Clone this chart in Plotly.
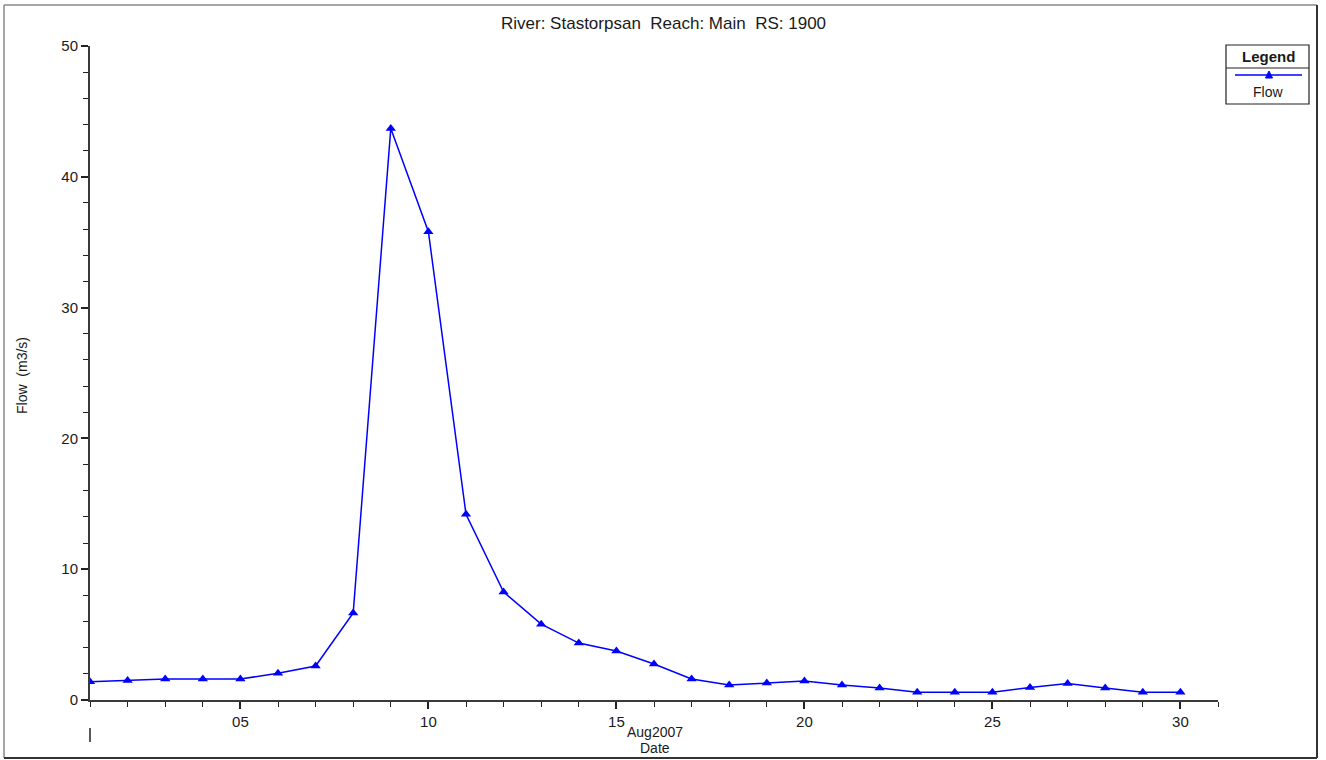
import plotly.graph_objects as go

# ---- data ----
dates = [f"2007-08-{d:02d}" for d in range(1, 31)]
flow = [1.4, 1.5, 1.6, 1.6, 1.6, 2.05, 2.6, 6.65, 43.7, 35.8,
        14.2, 8.25, 5.8, 4.35, 3.75, 2.75, 1.6, 1.15, 1.3, 1.45,
        1.15, 0.92, 0.6, 0.6, 0.6, 0.95, 1.27, 0.92, 0.6, 0.6]
title_text = "River: Stastorpsan  Reach: Main  RS: 1900"
y_title = "Flow  (m3/s)"
x_title = "Date"
month_label = "Aug2007"
series_name = "Flow"

W, H = 1326, 760
BLUE = "#0000FF"
FONT = "Liberation Sans, Arial, sans-serif"
TXT = "#1a1a1a"

def px(x):
    return x / W

def py(y):
    return 1 - y / H

fig = go.Figure()
fig.add_trace(go.Scatter(
    x=dates, y=flow, mode="lines+markers", name=series_name,
    line=dict(color=BLUE, width=1.5),
    marker=dict(symbol="triangle-up", size=9, color=BLUE),
    showlegend=False,
))

fig.update_layout(
    width=W, height=H,
    margin=dict(l=0, r=0, t=0, b=0, pad=0, autoexpand=False),
    paper_bgcolor="white", plot_bgcolor="white",
    font=dict(family=FONT, color=TXT, size=15),
    xaxis=dict(
        type="date",
        domain=[px(90), px(1218)],
        range=["2007-08-01", "2007-08-31"],
        tick0="2007-08-05", dtick=5 * 86400000,
        tickformat="%d",
        ticks="outside", ticklen=7, tickwidth=1.5, tickcolor="#222",
        minor=dict(dtick=86400000, tick0="2007-08-01", ticks="outside",
                   ticklen=5, tickwidth=1.2, tickcolor="#222", showgrid=False),
        showline=True, linecolor="#3a3a3a", linewidth=2,
        showgrid=False, zeroline=False, automargin=False,
        tickfont=dict(size=15, family=FONT, color=TXT),
        anchor="y",
    ),
    yaxis=dict(
        domain=[py(700), py(46)],
        range=[0, 50], dtick=10,
        ticks="outside", ticklen=7, tickwidth=1.5, tickcolor="#222",
        minor=dict(dtick=2, ticks="outside", ticklen=5, tickwidth=1.2,
                   tickcolor="#222", showgrid=False),
        showline=True, linecolor="#3a3a3a", linewidth=2,
        showgrid=False, zeroline=False, automargin=False,
        tickfont=dict(size=15, family=FONT, color=TXT),
        anchor="x",
    ),
)

def ann(text, x, y, size, angle=0):
    return dict(text=text, x=px(x), y=py(y), xref="paper", yref="paper",
                xanchor="center", yanchor="middle", showarrow=False,
                textangle=angle, font=dict(size=size, family=FONT, color=TXT))

annotations = [
    ann(title_text, 663, 24, 17),
    ann(y_title, 22, 376, 14, -90),
    ann(month_label, 655, 732, 14),
    ann(x_title, 655, 748, 14),
    ann("<b>Legend</b>", 1268, 57, 15),
    ann(series_name, 1268, 92, 14),
]

shapes = [
    # outer frame (light top/left, dark bottom/right)
    dict(type="line", xref="paper", yref="paper", x0=px(4), x1=px(1317), y0=py(5), y1=py(5),
         line=dict(color="#8a8a8a", width=1.5)),
    dict(type="line", xref="paper", yref="paper", x0=px(4), x1=px(4), y0=py(5), y1=py(758),
         line=dict(color="#8a8a8a", width=1.5)),
    dict(type="line", xref="paper", yref="paper", x0=px(4), x1=px(1317), y0=py(758), y1=py(758),
         line=dict(color="#333", width=2)),
    dict(type="line", xref="paper", yref="paper", x0=px(1317), x1=px(1317), y0=py(5), y1=py(758),
         line=dict(color="#333", width=2)),
    # month start marker
    dict(type="line", xref="paper", yref="paper", x0=px(90), x1=px(90), y0=py(728), y1=py(742),
         line=dict(color="#222", width=1.5)),
    # legend box
    dict(type="rect", xref="paper", yref="paper", x0=px(1226), x1=px(1309), y0=py(45), y1=py(104),
         line=dict(color="#222", width=1.2), fillcolor="rgba(0,0,0,0)"),
    dict(type="line", xref="paper", yref="paper", x0=px(1226), x1=px(1309), y0=py(68), y1=py(68),
         line=dict(color="#222", width=1.2)),
    dict(type="line", xref="paper", yref="paper", x0=px(1235), x1=px(1302), y0=py(75), y1=py(75),
         line=dict(color=BLUE, width=1.5)),
    dict(type="path", xref="paper", yref="paper",
         path=f"M {px(1265.5)} {py(78)} L {px(1272.5)} {py(78)} L {px(1269)} {py(71)} Z",
         line=dict(color=BLUE, width=1), fillcolor=BLUE),
]

fig.update_layout(annotations=annotations, shapes=shapes)
fig.write_html("out.html",
               config={"displayModeBar": False},
               post_script="document.body.style.margin='0';document.body.style.overflow='hidden';")
